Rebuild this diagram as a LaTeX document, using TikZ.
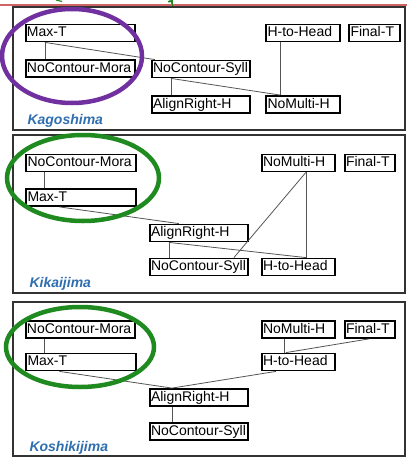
\documentclass[tikz,border=0pt]{standalone}
\usepackage{fontspec}
\setmainfont{Liberation Sans}
\usetikzlibrary{calc}
\definecolor{framegray}{HTML}{333333}
\definecolor{linkgray}{HTML}{555555}
\definecolor{ringpurple}{HTML}{7030A0}
\definecolor{ringgreen}{HTML}{1F8A1F}
\definecolor{placeblue}{HTML}{2F6FB0}
\definecolor{rulered}{HTML}{D06464}
\tikzset{
  con/.style={draw=black, line width=1.8pt, rectangle, inner sep=1.2pt,
    minimum height=17pt, text height=10pt, text depth=2.5pt,
    font=\fontsize{14}{15}\selectfont, align=left},
  wlong/.style={con, text width=107pt},
  wmid/.style={con, text width=96pt},
  wshort/.style={con, text width=71pt},
  wfin/.style={con, text width=48pt},
  link/.style={draw=linkgray, line width=0.8pt},
  panel/.style={draw=framegray, line width=1.5pt},
  ring/.style={line width=4.5pt},
  place/.style={anchor=west, text=placeblue,
    font=\fontsize{14}{15}\selectfont\bfseries\itshape}
}
\begin{document}
\begin{tikzpicture}[x=1pt,y=-1pt]
\useasboundingbox (0,0) rectangle (407,458);
\fill[white] (0,0) rectangle (407,458);

% header rule and the lower edge of the heading above it
\draw[rulered, line width=2pt] (0,4.5) -- (407,4.5);
\draw[ringgreen, line width=1.2pt] (56,0) -- (62,1.5);
\draw[ringgreen, line width=1.6pt] (172,-1) -- (172,3) arc[start angle=0,end angle=-150,radius=2];

% three panels
\draw[panel] (13,7) rectangle (405,130);
\draw[panel] (13,135) rectangle (405,293);
\draw[panel] (13,302) rectangle (405,456);

% ---------------- Kagoshima ----------------
\node[wlong]  (kMax) at (80.5,33)   {Max-T};
\node[wlong]  (kNCM) at (80.5,68.5) {NoContour-Mora};
\node[wmid]   (kNCS) at (201,69)    {NoContour-Syll};
\node[wshort] (kHH)  at (303,33)    {H-to-Head};
\node[wfin]   (kFin) at (374.5,33)  {Final-T};
\node[wmid]   (kAR)  at (201,104.5) {AlignRight-H};
\node[wshort] (kNM)  at (303,104.5) {NoMulti-H};
\node[place]  (kLab) at (24,121)    {Kagoshima};

\coordinate (kMaxB) at ($(kMax.south west)+(20,0)$);
\coordinate (kNCSB) at ($(kNCS.south west)+(20,0)$);
\coordinate (kHHB)  at ($(kHH.south west)+(15,0)$);
\draw[link] (kMaxB) -- (kMaxB |- kNCM.north);
\draw[link] (kMaxB) -- ($(kNCS.north west)+(4,0)$);
\draw[link] (kNCSB) -- (kNCSB |- kAR.north);
\draw[link] (kNCSB) -- (kHHB |- kNM.north);
\draw[link] (kHHB) -- (kHHB |- kNM.north);

\draw[ring, ringpurple] (72,56) ellipse[x radius=70, y radius=47];

% ---------------- Kikaijima ----------------
\node[wlong]  (iNCM) at (81,163)    {NoContour-Mora};
\node[wlong]  (iMax) at (81,197.5)  {Max-T};
\node[wshort] (iNM)  at (298.5,163) {NoMulti-H};
\node[wfin]   (iFin) at (370,163)   {Final-T};
\node[wmid]   (iAR)  at (199,233)   {AlignRight-H};
\node[wmid]   (iNCS) at (199,267)   {NoContour-Syll};
\node[wshort] (iHH)  at (298.5,267) {H-to-Head};
\node[place]  (iLab) at (26,284)    {Kikaijima};

\coordinate (iNCMB) at ($(iNCM.south west)+(19,0)$);
\coordinate (iMaxB) at ($(iMax.south west)+(34,0)$);
\coordinate (iNMB)  at ($(iNM.south west)+(45,0)$);
\coordinate (iARB)  at ($(iAR.south west)+(20,0)$);
\draw[link] (iNCMB) -- (iNCMB |- iMax.north);
\draw[link] (iMaxB) -- ($(iAR.north west)+(30,0)$);
\draw[link] (iNMB) -- (iNMB |- iHH.north);
\draw[link] (iNMB) -- ($(iNCS.north west)+(85,0)$);
\draw[link] (iARB) -- (iARB |- iNCS.north);
\draw[link] (iARB) -- (iNMB |- iHH.north);

\draw[ring, ringgreen] (83,178) ellipse[x radius=76, y radius=43];

% ---------------- Koshikijima ----------------
\node[wlong]  (sNCM) at (80.5,329.5) {NoContour-Mora};
\node[wlong]  (sMax) at (81,362)     {Max-T};
\node[wshort] (sNM)  at (298.5,329.5){NoMulti-H};
\node[wfin]   (sFin) at (370,329.5)  {Final-T};
\node[wshort] (sHH)  at (298.5,362)  {H-to-Head};
\node[wmid]   (sAR)  at (199,397.5)  {AlignRight-H};
\node[wmid]   (sNCS) at (199,431.5)  {NoContour-Syll};
\node[place]  (sLab) at (26,448)     {Koshikijima};

\coordinate (sNCMB) at ($(sNCM.south west)+(19,0)$);
\coordinate (sNMB)  at ($(sNM.south west)+(23,0)$);
\coordinate (sHHT)  at ($(sHH.north west)+(25,0)$);
\coordinate (sART)  at ($(sAR.north west)+(23,0)$);
\draw[link] (sNCMB) -- (sNCMB |- sMax.north);
\draw[link] (sNMB) -- (sNMB |- sHH.north);
\draw[link] ($(sFin.south west)+(25,0)$) -- (sHHT);
\draw[link] ($(sMax.south west)+(34,0)$) -- (sART);
\draw[link] ($(sHH.south west)+(15,0)$) -- (sART);
\draw[link] ($(sAR.south west)+(23,0)$) -- (sART |- sNCS.north);

\draw[ring, ringgreen] (80,347) ellipse[x radius=74, y radius=40];
\end{tikzpicture}
\end{document}
